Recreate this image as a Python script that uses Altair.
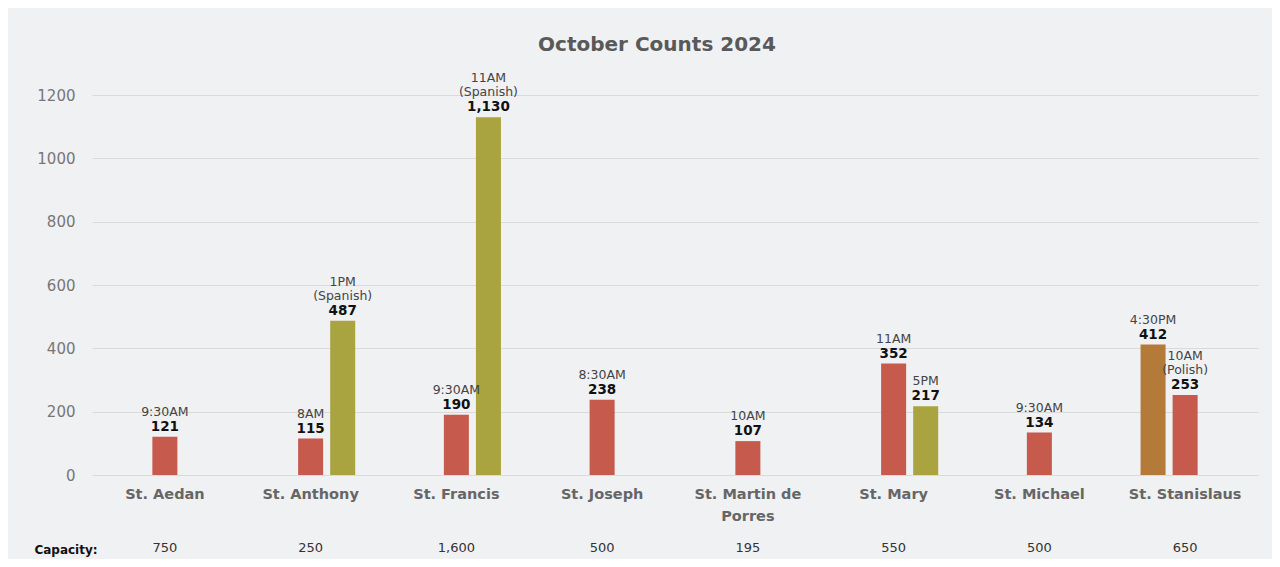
import altair as alt
import pandas as pd

parishes = ["St. Aedan", "St. Anthony", "St. Francis", "St. Joseph",
            "St. Martin de Porres", "St. Mary", "St. Michael", "St. Stanislaus"]
capacity = [750, 250, 1600, 500, 195, 550, 500, 650]

bar_parish = ["St. Aedan", "St. Anthony", "St. Anthony", "St. Francis", "St. Francis",
              "St. Joseph", "St. Martin de Porres", "St. Mary", "St. Mary",
              "St. Michael", "St. Stanislaus", "St. Stanislaus"]
bar_slot = ["b", "b", "c", "b", "c", "b", "b", "b", "c", "b", "a", "b"]
bar_time = ["9:30AM", "8AM", "1PM", "9:30AM", "11AM", "8:30AM",
            "10AM", "11AM", "5PM", "9:30AM", "4:30PM", "10AM"]
bar_lang = ["", "", "(Spanish)", "", "(Spanish)", "", "", "", "", "", "", "(Polish)"]
bar_count = [121, 115, 487, 190, 1130, 238, 107, 352, 217, 134, 412, 253]

slots = ["a", "b", "c"]
slot_colors = ["#B37A39", "#C55A4D", "#A9A440"]

bars_df = pd.DataFrame({"parish": bar_parish, "slot": bar_slot, "time": bar_time,
                        "lang": bar_lang, "count": bar_count})
cap_df = pd.DataFrame({"parish": parishes, "capacity": capacity})

FONT = "DejaVu Sans"

x_enc = alt.X("parish:N", sort=parishes, scale=alt.Scale(domain=parishes, paddingInner=0.34, paddingOuter=0.17),
              axis=alt.Axis(title=None, labelAngle=0, labelFontWeight="bold", labelFontSize=14.5,
                            labelColor="#666666", labelPadding=12, ticks=False, domain=False,
                            labelLineHeight=22, labelFont=FONT,
                            labelExpr="datum.label == 'St. Martin de Porres' ? ['St. Martin de', 'Porres'] : datum.label"))
xo_enc = alt.XOffset("slot:N", scale=alt.Scale(domain=slots, paddingInner=0.22, paddingOuter=0.11))
y_enc = alt.Y("count:Q", scale=alt.Scale(domain=[0, 1200], nice=False),
              axis=alt.Axis(title=None, values=[0, 200, 400, 600, 800, 1000, 1200], format="d",
                            labelFontSize=15, labelColor="#777777", labelPadding=17, ticks=False,
                            domain=False, gridColor="#DADADA", labelFont=FONT))

base = alt.Chart(bars_df)
xs = alt.X("parish:N", sort=parishes)

bars = base.mark_bar().encode(
    x=x_enc, xOffset=xo_enc, y=y_enc,
    color=alt.Color("slot:N", scale=alt.Scale(domain=slots, range=slot_colors), legend=None),
)

vals = base.mark_text(baseline="bottom", dy=-3, fontWeight="bold", fontSize=13.5,
                      color="#111111", font=FONT).encode(
    x=xs, xOffset="slot:N", y="count:Q",
    text=alt.Text("count:Q", format=","),
)

TXT = dict(baseline="bottom", fontSize=12.5, color="#444444", font=FONT)

lang = base.transform_filter("datum.lang != ''").mark_text(dy=-18, **TXT).encode(
    x=xs, xOffset="slot:N", y="count:Q", text="lang:N",
)

time_single = base.transform_filter("datum.lang == ''").mark_text(dy=-18, **TXT).encode(
    x=xs, xOffset="slot:N", y="count:Q", text="time:N",
)

time_double = base.transform_filter("datum.lang != ''").mark_text(dy=-32, **TXT).encode(
    x=xs, xOffset="slot:N", y="count:Q", text="time:N",
)

cap = alt.Chart(cap_df).mark_text(baseline="middle", fontSize=13, color="#333333", font=FONT).encode(
    x=xs, y=alt.value(453),
    text=alt.Text("capacity:Q", format=","),
)

cap_label = alt.Chart(pd.DataFrame({"t": ["Capacity:"]})).mark_text(
    baseline="middle", align="center", fontSize=12, fontWeight="bold", color="#111111", font=FONT
).encode(x=alt.value(-26), y=alt.value(455), text="t:N")

chart = alt.layer(bars, vals, lang, time_single, time_double, cap, cap_label).properties(
    width=1166, height=380,
    padding={"left": 84, "right": 14, "top": 87, "bottom": 84},
    autosize=alt.AutoSizeParams(type="none"),
    background="#F0F1F3",
    title=alt.TitleParams("October Counts 2024", fontSize=20, font=FONT, fontWeight="bold",
                          color="#595959", anchor="middle", frame="group", offset=17, dx=-18),
).configure_view(stroke=None)

chart.save("out.html", embed_options={"renderer": "svg", "actions": False})
